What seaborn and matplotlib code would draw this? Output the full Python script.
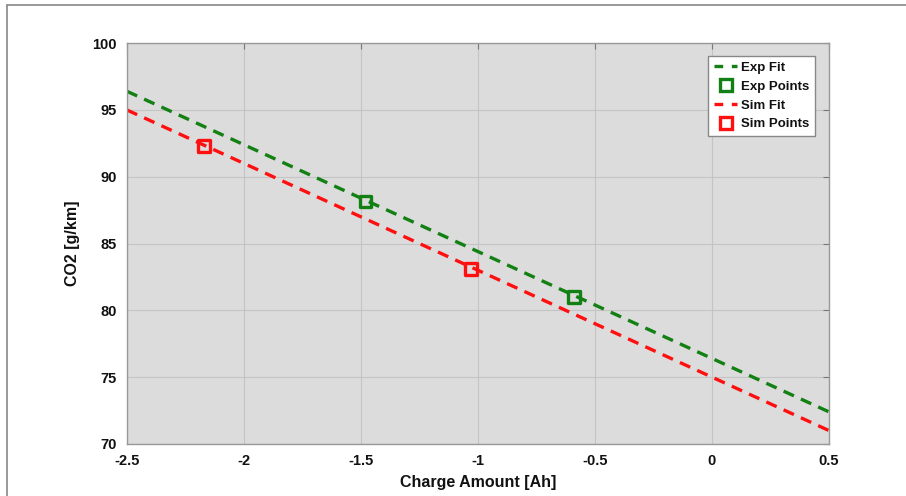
import matplotlib
matplotlib.use("Agg")
import matplotlib.pyplot as plt
import pandas as pd
import seaborn as sns
from matplotlib.lines import Line2D

# Data
fit_x = [-2.5, 0.5]
exp_fit = [96.4, 72.4]
sim_fit = [95.0, 71.0]

exp_x = [-1.48, -0.59]
exp_y = [88.15, 81.0]
sim_x = [-2.17, -1.03]
sim_y = [92.3, 83.1]

x_ticks = [-2.5, -2, -1.5, -1, -0.5, 0, 0.5]
x_tick_labels = ["-2.5", "-2", "-1.5", "-1", "-0.5", "0", "0.5"]
y_ticks = [70, 75, 80, 85, 90, 95, 100]

fits = pd.DataFrame({
    "x": fit_x * 2,
    "y": exp_fit + sim_fit,
    "series": ["Exp Fit"] * 2 + ["Sim Fit"] * 2,
})
points = pd.DataFrame({
    "x": exp_x + sim_x,
    "y": exp_y + sim_y,
    "series": ["Exp Points"] * 2 + ["Sim Points"] * 2,
})

sns.set_style("white")
plt.rcParams["font.family"] = ["Liberation Sans", "DejaVu Sans"]
plt.rcParams["font.weight"] = "bold"

green = "#138013"
red = "#ff1010"
dash = (3.4, 2.3)

fig = plt.figure(figsize=(9.06, 4.96), dpi=100)
ax = fig.add_axes([0.140, 0.105, 0.775, 0.808])
ax.set_facecolor("#dcdcdc")

sns.lineplot(data=fits, x="x", y="y", hue="series", style="series",
             palette={"Exp Fit": green, "Sim Fit": red},
             dashes={"Exp Fit": dash, "Sim Fit": dash},
             linewidth=2.4, legend=False, ax=ax)
sns.scatterplot(data=points, x="x", y="y", hue="series",
                palette={"Exp Points": green, "Sim Points": red},
                marker="s", s=70, linewidth=2.4,
                legend=False, ax=ax, zorder=5)
# hollow squares: keep hue colours on the edges only
coll = ax.collections[-1]
coll.set_edgecolors([green, green, red, red])
coll.set_facecolors("none")

ax.set_xlim(-2.5, 0.5)
ax.set_ylim(70, 100)
ax.set_xticks(x_ticks)
ax.set_xticklabels(x_tick_labels)
ax.set_yticks(y_ticks)
ax.grid(True, color="#c4c4c4", linewidth=0.8)
ax.tick_params(direction="in", length=4, color="#777777", labelsize=10.5,
               labelcolor="#111111", top=True, right=True, pad=7)
for lab in ax.get_xticklabels() + ax.get_yticklabels():
    lab.set_fontweight("bold")
for s in ax.spines.values():
    s.set_color("#999999")
    s.set_linewidth(1.0)

ax.set_xlabel("Charge Amount [Ah]", fontsize=11.5, fontweight="bold",
              labelpad=5, color="#111111")
ax.set_ylabel("CO2 [g/km]", fontsize=11.5, fontweight="bold",
              labelpad=9, color="#111111")

leg_dash = (0, (2.6, 2.6))
handles = [
    Line2D([], [], color=green, linestyle=leg_dash, linewidth=2.4, label="Exp Fit"),
    Line2D([], [], color=green, marker="s", markerfacecolor="none", markeredgewidth=2.4,
           markersize=8, linestyle="none", label="Exp Points"),
    Line2D([], [], color=red, linestyle=leg_dash, linewidth=2.4, label="Sim Fit"),
    Line2D([], [], color=red, marker="s", markerfacecolor="none", markeredgewidth=2.4,
           markersize=8, linestyle="none", label="Sim Points"),
]
leg = ax.legend(handles=handles, loc="upper right", fontsize=9.5, frameon=True,
                fancybox=False, edgecolor="#888888", framealpha=1,
                handlelength=1.75, handletextpad=0.3, borderpad=0.45,
                labelspacing=0.5, bbox_to_anchor=(0.99, 0.985))
for t in leg.get_texts():
    t.set_fontweight("bold")
    t.set_color("#111111")

# outer frame lines at top and left of the figure
fig.add_artist(Line2D([0.008, 0.008], [0, 0.99], color="#888888", linewidth=1.2,
                      transform=fig.transFigure))
fig.add_artist(Line2D([0.008, 1.0], [0.99, 0.99], color="#888888", linewidth=1.2,
                      transform=fig.transFigure))

fig.savefig("out.png", dpi=100)
